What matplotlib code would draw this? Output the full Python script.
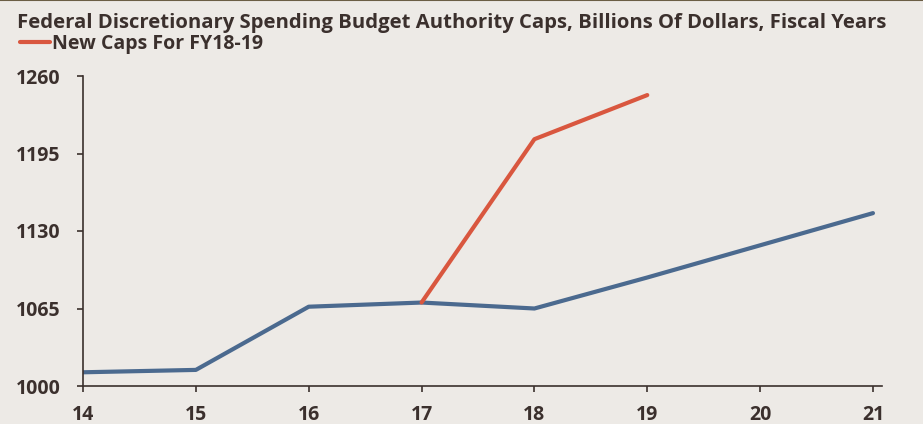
# budget authority caps chart

import matplotlib
matplotlib.use("Agg")
import matplotlib.pyplot as plt

years = [14, 15, 16, 17, 18, 19, 20, 21]
old_caps = [1011.5, 1013.5, 1066.5, 1070, 1065, 1091, 1118, 1145]

new_years = [17, 18, 19]
new_caps = [1070, 1207, 1244]

y_ticks = [1000, 1065, 1130, 1195, 1260]

bg = "#edeae6"
ink = "#3b302d"
blue = "#4b6a8f"
red = "#d9573f"

plt.rcParams["font.family"] = ["Open Sans", "DejaVu Sans"]
plt.rcParams["font.weight"] = "bold"

fig = plt.figure(figsize=(9.23, 4.24), dpi=100, facecolor=bg)
ax = fig.add_axes([83 / 923, 1 - 386 / 424, (882 - 83) / 923, (386 - 76) / 424])
ax.set_facecolor(bg)

ax.plot(years, old_caps, color=blue, lw=3, solid_capstyle="round")
ax.plot(new_years, new_caps, color=red, lw=3, solid_capstyle="round",
        label="New Caps For FY18-19")

ax.set_xlim(14, 21.08)
ax.set_ylim(1000, 1260)
ax.set_xticks(years)
ax.set_xticklabels([str(y) for y in years])
ax.set_yticks(y_ticks)

for s in ["top", "right"]:
    ax.spines[s].set_visible(False)
for s in ["left", "bottom"]:
    ax.spines[s].set_color(ink)
    ax.spines[s].set_linewidth(1.2)

ax.tick_params(colors=ink, labelsize=14, length=4, width=1.2)
ax.tick_params(axis="y", pad=12)
ax.tick_params(axis="x", pad=10)

fig.text(17 / 923, 1 - 28 / 424,
         "Federal Discretionary Spending Budget Authority Caps, Billions Of Dollars, Fiscal Years",
         fontsize=14.6, fontweight="bold", color=ink, va="baseline")

leg = fig.legend(loc="upper left", bbox_to_anchor=(20 / 923, 1 - 34 / 424),
                 frameon=False, fontsize=14, handlelength=1.55, handletextpad=0.1,
                 borderpad=0, borderaxespad=0)
for t in leg.get_texts():
    t.set_color(ink)

fig.add_artist(plt.Line2D([0, 1], [0.999, 0.999], color="#6b5e45", lw=1.5,
                          transform=fig.transFigure))

fig.savefig("out.png", dpi=100, facecolor=bg)
